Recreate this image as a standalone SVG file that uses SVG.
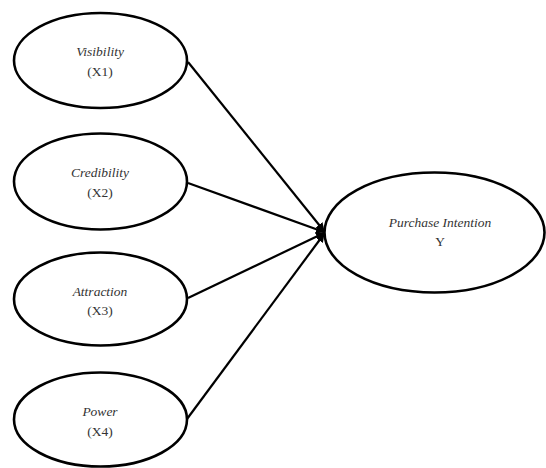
<svg xmlns="http://www.w3.org/2000/svg" width="546" height="468" viewBox="0 0 546 468">
<defs>
<style>
.node ellipse{fill:#fff;stroke:#000;stroke-width:2.6}
.lbl{font-family:"Liberation Serif","Times New Roman",serif;font-size:13.5px;fill:#333;text-anchor:middle}
.it{font-style:italic}
.edge{stroke:#000;stroke-width:2.2;fill:none;marker-end:url(#ah)}
</style>
<marker id="ah" viewBox="0 0 10 10" refX="9" refY="5" markerWidth="4" markerHeight="4" orient="auto" markerUnits="strokeWidth">
<path d="M0,0 L10,5 L0,10 z" fill="#000"/>
</marker>
</defs>
<rect width="546" height="468" fill="#fff"/>
<g id="connectors">
<line class="edge" x1="188" y1="62" x2="324" y2="231"/>
<line class="edge" x1="188" y1="183" x2="324" y2="232"/>
<line class="edge" x1="188" y1="298" x2="324" y2="233"/>
<line class="edge" x1="187" y1="419" x2="324" y2="234"/>
</g>
<g id="x1" class="node">
<ellipse cx="100.5" cy="60.5" rx="86.5" ry="47.5"/>
<text class="lbl it" x="100" y="56">Visibility</text>
<text class="lbl" x="100" y="76">(X1)</text>
</g>
<g id="x2" class="node">
<ellipse cx="100.5" cy="181.5" rx="86.5" ry="48"/>
<text class="lbl it" x="100" y="177">Credibility</text>
<text class="lbl" x="100" y="197">(X2)</text>
</g>
<g id="x3" class="node">
<ellipse cx="100.5" cy="299" rx="86.5" ry="46.5"/>
<text class="lbl it" x="100" y="296">Attraction</text>
<text class="lbl" x="100" y="315">(X3)</text>
</g>
<g id="x4" class="node">
<ellipse cx="100.5" cy="419.5" rx="86.5" ry="47"/>
<text class="lbl it" x="100" y="416">Power</text>
<text class="lbl" x="100" y="436">(X4)</text>
</g>
<g id="y" class="node">
<ellipse cx="434.5" cy="232.5" rx="110" ry="60"/>
<text class="lbl it" x="440" y="227">Purchase Intention</text>
<text class="lbl" x="440" y="246">Y</text>
</g>
</svg>
